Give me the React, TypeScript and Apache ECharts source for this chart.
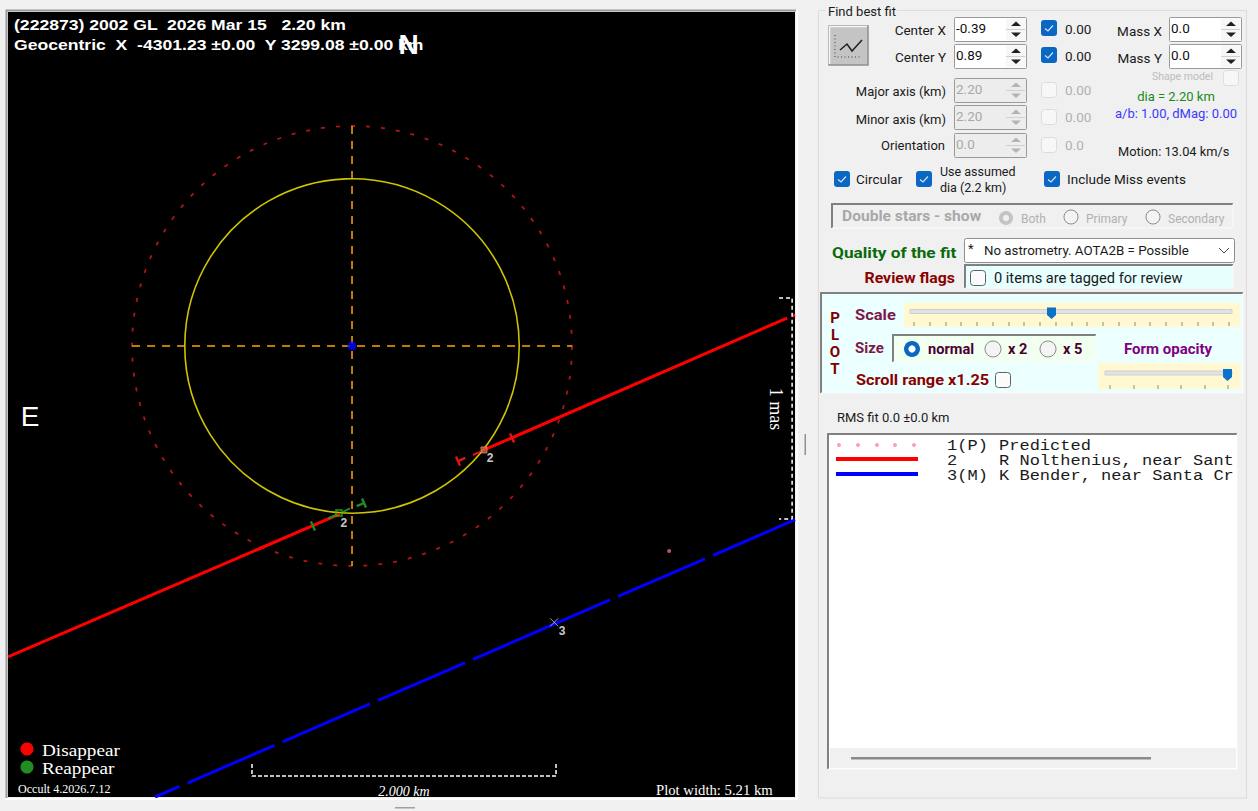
import React, { useEffect, useRef } from "react";
import * as echarts from "echarts";

// ---- Occultation plot data, all in km from the asteroid centre (x right, y up) ----
const asteroidCircle = [[0, 0, 1.1]];
const limitCircle = [[0, 0, 1.447]];
const crossHorizontal = [[-1.447, 0], [1.447, 0]];
const crossVertical = [[0, 1.447], [0, -1.447]];
const redChord = [
  [-2.263, -2.046], [-0.079, -1.105], [null, null],
  [0.868, -0.684], [2.862, 0.184], [null, null],
  [2.895, 0.197], [2.914, 0.205],
];
const redDash = [[0.796, -0.717], [0.842, -0.697]];
const greenDashes = [
  [-0.158, -1.135], [-0.112, -1.115], [null, null],
  [-0.059, -1.092], [-0.013, -1.069],
];
const blueChord = [
  [-1.296, -2.967], [-1.135, -2.897], [null, null],
  [-1.082, -2.875], [-0.51, -2.627], [null, null],
  [-0.457, -2.604], [0.118, -2.355], [null, null],
  [0.171, -2.332], [0.743, -2.084], [null, null],
  [0.796, -2.061], [1.697, -1.671], [null, null],
  [1.75, -1.648], [2.322, -1.4], [null, null],
  [2.375, -1.378], [2.914, -1.143],
];
const disappearTicks = [[0.697, -0.757, 1], [1.053, -0.605, 0]];
const reappearTicks = [[-0.257, -1.184, 0], [0.079, -1.033, -1]];
const disappearBox = [[0.868, -0.684]];
const reappearBox = [[-0.086, -1.099]];
const chordLabels = [
  { value: [0.908, -0.737], name: "2" },
  { value: [-0.053, -1.164], name: "2" },
  { value: [1.382, -1.875], name: "3" },
];
const missTick = [[1.33, -1.818]];
const predictedPoint = [[2.086, -1.349]];
const centrePoint = [[0, 0]];
const scaleBar = [[-0.658, -2.75], [-0.658, -2.829], [1.342, -2.829], [1.342, -2.75]];
const masBar = [[2.809, 0.316], [2.895, 0.316], [2.895, -1.138], [2.809, -1.138]];

// ---- Texts ----
const titleLine1 = "(222873) 2002 GL  2026 Mar 15   2.20 km";
const titleLine2 = "Geocentric  X  -4301.23 ±0.00  Y 3299.08 ±0.00 km";
const listRows = [
  ["1(P)", "Predicted"],
  ["2", "R Nolthenius, near Sant"],
  ["3(M)", "K Bender, near Santa Cr"],
];
const scaleTicks = [914, 930, 946, 961, 977, 993, 1009, 1024, 1040, 1056, 1072, 1087, 1103, 1119, 1135, 1150, 1166, 1182, 1198, 1213, 1229];
const opacityTicks = [1110, 1134, 1158, 1181, 1205, 1228];

const UI = "Roboto, 'Noto Sans', sans-serif";
const SANS = "'Liberation Sans', Arial, sans-serif";
const SERIF = "'Liberation Serif', 'Times New Roman', serif";
const MONO = "'Liberation Mono', 'Courier New', monospace";
const Z = 10;

function txt(x: number, y: number, text: string, font: string, fill = "#1a1a1a", align = "left", extra: any = {}) {
  return { type: "text", z: Z, x, y, silent: true, ...extra, style: { text, font, fill, align, verticalAlign: "middle" } };
}
function rect(x: number, y: number, w: number, h: number, fill: string, stroke = "none", r = 0, lineWidth = 1) {
  return { type: "rect", z: Z, silent: true, shape: { x, y, width: w, height: h, r }, style: { fill, stroke, lineWidth } };
}
function line(pts: number[][], stroke: string, lineWidth = 1, lineDash?: number[]) {
  return { type: "polyline", z: Z + 1, silent: true, shape: { points: pts }, style: { fill: "none", stroke, lineWidth, lineDash } };
}
function tri(pts: number[][], fill: string) {
  return { type: "polygon", z: Z + 1, silent: true, shape: { points: pts }, style: { fill } };
}
function sunken(x: number, y: number, w: number, h: number, fill: string) {
  return [
    rect(x, y, w, h, fill),
    line([[x, y + h], [x, y], [x + w, y]], "#808080", 2),
    line([[x, y + h], [x + w, y + h], [x + w, y]], "#fafafa", 1),
  ];
}
function spinner(x: number, y: number, value: string, enabled: boolean) {
  const W = 72, H = 24;
  const c = enabled ? "#101010" : "#a8a8a8";
  const a = enabled ? "#202020" : "#b4b4b4";
  return [
    rect(x + 0.5, y + 0.5, W, H, enabled ? "#ffffff" : "#ededed", "#9a9a9a", 1, 1),
    rect(x + 52, y + 1.5, 19.5, 22, enabled ? "#f7f7f7" : "#ededed"),
    line([[x + 52, y + 12.5], [x + 71, y + 12.5]], "#d0d0d0"),
    tri([[x + 57, y + 9], [x + 62, y + 4.5], [x + 67, y + 9]], a),
    tri([[x + 57, y + 15.5], [x + 67, y + 15.5], [x + 62, y + 20]], a),
    txt(x + 2, y + 11, value, `13.5px ${UI}`, c),
  ];
}
function checked(x: number, y: number) {
  return [
    rect(x, y, 16, 16, "#0a67c2", "none", 3),
    line([[x + 4, y + 8.5], [x + 7, y + 11], [x + 12, y + 5.5]], "#cfe3ff", 1.2),
  ];
}
function unchecked(x: number, y: number, enabled = false) {
  return [rect(x + 0.5, y + 0.5, 15, 15, enabled ? "#fbfbfb" : "#f7f7f7", enabled ? "#606060" : "#dcdcdc", 3, 1)];
}
function radio(cx: number, cy: number, r: number, mode: "off" | "on" | "grey", bg = "#f4f4f4") {
  const base: any[] = [];
  if (mode === "on") {
    base.push({ type: "circle", z: Z, silent: true, shape: { cx, cy, r }, style: { fill: "#0a67c2" } });
    base.push({ type: "circle", z: Z + 1, silent: true, shape: { cx, cy, r: r * 0.45 }, style: { fill: "#ffffff" } });
  } else if (mode === "grey") {
    base.push({ type: "circle", z: Z, silent: true, shape: { cx, cy, r }, style: { fill: "#c4c4c4" } });
    base.push({ type: "circle", z: Z + 1, silent: true, shape: { cx, cy, r: r * 0.45 }, style: { fill: "#f0f0f0" } });
  } else {
    base.push({ type: "circle", z: Z, silent: true, shape: { cx, cy, r }, style: { fill: bg, stroke: "#8a8a8a", lineWidth: 1 } });
  }
  return base;
}
function slider(x0: number, x1: number, y: number, thumbX: number, thumbBottom: number, ticks: number[], tickY: number) {
  return [
    rect(x0, y, x1 - x0, 4, "#e2e2e2", "#cfcfcf", 0, 1),
    tri([[thumbX, y - 2], [thumbX + 9, y - 2], [thumbX + 9, thumbBottom - 4], [thumbX + 4.5, thumbBottom], [thumbX, thumbBottom - 4]], "#0a72c8"),
    ...ticks.map((t) => line([[t, tickY], [t, tickY + 4]], "#8a8a8a")),
  ];
}

function buildGraphics() {
  const out: any[] = [];
  // plot frame + overlay texts
  out.push(line([[6.5, 798], [6.5, 10.5], [796, 10.5]], "#9a9a9a", 2));
  out.push(line([[5, 799], [797, 799], [797, 10]], "#fdfdfd", 2));
  out.push(txt(14, 25, titleLine1, `bold 15.5px ${SANS}`, "#ffffff", "left", { scaleX: 1.135 }));
  out.push(txt(14, 45, titleLine2, `bold 15.5px ${SANS}`, "#ffffff", "left", { scaleX: 1.135 }));
  out.push(txt(408.5, 44, "N", `bold 28px ${SANS}`, "#ffffff", "center"));
  out.push(txt(30, 416, "E", `28px ${SANS}`, "#ffffff", "center"));
  out.push({ type: "circle", z: Z, silent: true, shape: { cx: 27, cy: 749, r: 6.5 }, style: { fill: "#ff0000" } });
  out.push({ type: "circle", z: Z, silent: true, shape: { cx: 27, cy: 767, r: 6.5 }, style: { fill: "#228b22" } });
  out.push(txt(42, 750, "Disappear", `17px ${SERIF}`, "#ffffff", "left", { scaleX: 1.13 }));
  out.push(txt(42, 768, "Reappear", `17px ${SERIF}`, "#ffffff", "left", { scaleX: 1.13 }));
  out.push(txt(18, 789, "Occult 4.2026.7.12", `11.5px ${SERIF}`, "#ffffff", "left", { scaleX: 1.05 }));
  out.push(txt(404, 791, "2.000 km", `italic 14px ${SERIF}`, "#ffffff", "center"));
  out.push(txt(656, 790, "Plot width: 5.21 km", `14px ${SERIF}`, "#ffffff", "left", { scaleX: 1.05 }));
  out.push(txt(776, 409, "1 mas", `18px ${SERIF}`, "#ffffff", "center", { rotation: -Math.PI / 2 }));

  // small divider grips
  out.push(rect(804.5, 434, 1.5, 21, "#909090"));
  out.push(rect(395, 807, 20, 1.5, "#a0a0a0"));

  // group box
  out.push(rect(818.5, 10.5, 428, 787.5, "none", "#dcdcdc", 0, 1));
  out.push(rect(825, 5, 72, 10, "#f0f0f0"));
  out.push(txt(828, 11, "Find best fit", `13px ${UI}`));

  // fit button
  out.push(rect(829, 26, 39, 39, "#c4c4c4", "#8f8f8f", 0, 1.5));
  out.push(line([[829.5, 64], [829.5, 26.5], [867, 26.5]], "#f4f4f4", 1.5));
  out.push(line([[835, 35], [835, 57], [862, 57]], "#404040", 1, [1, 2.5]));
  out.push(line([[840, 50], [847, 44], [852, 51], [862, 40]], "#202020", 1.5));

  // spinners and labels
  out.push(txt(946, 30, "Center X", `13.5px ${UI}`, "#1a1a1a", "right"));
  out.push(txt(946, 57, "Center Y", `13.5px ${UI}`, "#1a1a1a", "right"));
  out.push(txt(946, 91, "Major axis (km)", `13px ${UI}`, "#1a1a1a", "right"));
  out.push(txt(946, 119, "Minor axis (km)", `13px ${UI}`, "#1a1a1a", "right"));
  out.push(txt(945, 145, "Orientation", `13px ${UI}`, "#1a1a1a", "right"));
  out.push(...spinner(954, 17, "-0.39", true));
  out.push(...spinner(954, 44, "0.89", true));
  out.push(...spinner(954, 78, "2.20", false));
  out.push(...spinner(954, 105, "2.20", false));
  out.push(...spinner(954, 133, "0.0", false));
  out.push(...checked(1041, 20), ...checked(1041, 47));
  out.push(...unchecked(1041, 82), ...unchecked(1041, 109), ...unchecked(1041, 137));
  out.push(txt(1065, 29, "0.00", `13.5px ${UI}`));
  out.push(txt(1065, 56, "0.00", `13.5px ${UI}`));
  out.push(txt(1065, 90, "0.00", `13.5px ${UI}`, "#b0b0b0"));
  out.push(txt(1065, 117, "0.00", `13.5px ${UI}`, "#b0b0b0"));
  out.push(txt(1065, 145, "0.0", `13.5px ${UI}`, "#b0b0b0"));
  out.push(txt(1162, 31, "Mass X", `13.5px ${UI}`, "#1a1a1a", "right"));
  out.push(txt(1162, 58, "Mass Y", `13.5px ${UI}`, "#1a1a1a", "right"));
  out.push(...spinner(1169, 17, "0.0", true));
  out.push(...spinner(1169, 44, "0.0", true));
  out.push(txt(1213, 76, "Shape model", `10.5px ${UI}`, "#bdbdbd", "right"));
  out.push(...unchecked(1223, 70));
  out.push(txt(1176, 96, "dia = 2.20 km", `13px ${UI}`, "#1a8a1a", "center"));
  out.push(txt(1176, 113, "a/b: 1.00, dMag: 0.00", `13px ${UI}`, "#3a3aff", "center"));
  out.push(txt(1118, 151, "Motion: 13.04 km/s", `12.8px ${UI}`));

  // option row
  out.push(...checked(834, 171), ...checked(916, 171), ...checked(1044, 171));
  out.push(txt(856, 179, "Circular", `13.5px ${UI}`));
  out.push(txt(940, 171, "Use assumed", `12.5px ${UI}`));
  out.push(txt(940, 187, "dia (2.2 km)", `12.5px ${UI}`));
  out.push(txt(1067, 179, "Include Miss events", `13.5px ${UI}`));

  // double stars
  out.push(...sunken(832, 204, 401, 24, "#f0f0f0"));
  out.push(txt(842, 216, "Double stars - show", `bold 15px ${UI}`, "#a8a8a8", "left", { scaleX: 1.04 }));
  out.push(...radio(1006, 218, 7, "grey"));
  out.push(...radio(1071, 217, 7, "off", "#f4f4f4"));
  out.push(...radio(1153, 217, 7, "off", "#f4f4f4"));
  out.push(txt(1021, 219, "Both", `12px ${UI}`, "#b0b0b0"));
  out.push(txt(1086, 219, "Primary", `12px ${UI}`, "#b0b0b0"));
  out.push(txt(1168, 219, "Secondary", `12px ${UI}`, "#b0b0b0"));

  // quality
  out.push(txt(832, 253, "Quality of the fit", `bold 15px ${UI}`, "#0a6a0a", "left", { scaleX: 1.15 }));
  out.push(rect(964.5, 238.5, 270, 24, "#ffffff", "#8e8e8e", 2, 1));
  out.push(txt(968, 248, "*", `13px ${UI}`));
  out.push(txt(984, 250, "No astrometry. AOTA2B = Possible", `13.3px ${UI}`));
  out.push(line([[1219, 248], [1224, 253], [1229, 248]], "#505050", 1));
  out.push(txt(955, 278, "Review flags", `bold 15px ${UI}`, "#8b0000", "right", { scaleX: 1.06 }));
  out.push(...sunken(965, 265, 268, 23, "#e6ffff"));
  out.push(...unchecked(970, 270, true));
  out.push(txt(994, 278, "0 items are tagged for review", `14.6px ${UI}`));

  // PLOT panel
  out.push(...sunken(821, 293, 422, 100, "#ecffff"));
  ["P", "L", "O", "T"].forEach((c, i) => out.push(txt(835, 318 + i * 17, c, `bold 15px ${UI}`, "#800000", "center")));
  out.push(txt(855, 315, "Scale", `bold 15px ${UI}`, "#7a1a4a", "left", { scaleX: 1.1 }));
  out.push(rect(904, 303, 336, 24, "#fff8d0"));
  out.push(...slider(910, 1232, 309.5, 1047, 319, scaleTicks, 322));
  out.push(txt(855, 348, "Size", `bold 15px ${UI}`, "#7a1a4a"));
  out.push(...sunken(893, 335, 203, 27, "#f0fff0"));
  out.push(...radio(912, 349, 8, "on"));
  out.push(...radio(993, 349, 8, "off"));
  out.push(...radio(1048, 349, 8, "off"));
  out.push(txt(928, 349, "normal", `bold 14.6px ${UI}`, "#4a0030"));
  out.push(txt(1008, 349, "x 2", `bold 14.6px ${UI}`, "#4a0030"));
  out.push(txt(1063, 349, "x 5", `bold 14.6px ${UI}`, "#4a0030"));
  out.push(txt(1124, 349, "Form opacity", `bold 15px ${UI}`, "#800080"));
  out.push(rect(1098, 363, 143, 26, "#fff8d0"));
  out.push(...slider(1105, 1232, 371, 1223, 381, opacityTicks, 385));
  out.push(txt(856, 380, "Scroll range x1.25", `bold 15px ${UI}`, "#8b0000", "left", { scaleX: 1.09 }));
  out.push(...unchecked(995, 372, true));

  // RMS + list box
  out.push(txt(837, 417, "RMS fit 0.0 ±0.0 km", `13px ${UI}`));
  out.push(...sunken(828, 434, 409, 335, "#ffffff"));
  out.push(rect(830, 748, 406, 20, "#f0f0f0"));
  out.push(rect(851, 757, 300, 2.5, "#8a8a8a"));
  [839, 858, 877, 895, 914].forEach((cx) =>
    out.push({ type: "circle", z: Z, silent: true, shape: { cx, cy: 445, r: 2 }, style: { fill: "#ff99cc" } })
  );
  out.push(line([[836, 459], [918, 459]], "#ff0000", 4));
  out.push(line([[836, 474], [918, 474]], "#0000ff", 4));
  listRows.forEach((row, i) => {
    out.push(txt(947, 446 + i * 15, row[0], `14.5px ${MONO}`, "#1a1a1a", "left", { scaleX: 1.175 }));
    out.push(txt(999, 446 + i * 15, row[1], `14.5px ${MONO}`, "#1a1a1a", "left", { scaleX: 1.175 }));
  });
  return out;
}

function circleItem(stroke: string, lineWidth: number, lineDash?: number[]) {
  return (_p: any, api: any) => {
    const c = api.coord([api.value(0), api.value(1)]);
    const r = api.size([api.value(2), 0])[0];
    return { type: "circle", shape: { cx: c[0], cy: c[1], r }, style: { fill: "none", stroke, lineWidth, lineDash } };
  };
}
function tickItem(stroke: string) {
  return (_p: any, api: any) => {
    const c = api.coord([api.value(0), api.value(1)]);
    const dir = api.value(2);
    const ux = 0.917, uy = -0.398, nx = 0.398, ny = 0.917;
    const kids: any[] = [
      { type: "line", shape: { x1: c[0] - 5 * nx, y1: c[1] - 5 * ny, x2: c[0] + 5 * nx, y2: c[1] + 5 * ny }, style: { stroke, lineWidth: 2.4 } },
    ];
    if (dir !== 0) {
      kids.push({ type: "line", shape: { x1: c[0], y1: c[1], x2: c[0] + dir * 8 * ux, y2: c[1] + dir * 8 * uy }, style: { stroke, lineWidth: 2.4 } });
    }
    return { type: "group", children: kids };
  };
}
function lineSeries(data: any[], color: string, width: number, dash?: number[] | string, z = 3) {
  return {
    type: "line", data, silent: true, showSymbol: false, symbol: "none", connectNulls: false, z,
    lineStyle: { color, width, type: dash ?? "solid", cap: "butt" },
  };
}

export default function App() {
  const ref = useRef<HTMLDivElement>(null);
  useEffect(() => {
    document.body.style.margin = "0";
    const chart = echarts.init(ref.current!, undefined, { renderer: "svg" });
    chart.setOption({
      animation: false,
      backgroundColor: "#f0f0f0",
      grid: { left: 8, top: 12, width: 787, height: 785, show: true, backgroundColor: "#000000", borderWidth: 0 },
      xAxis: { type: "value", min: -2.263, max: 2.914, show: false },
      yAxis: { type: "value", min: -2.967, max: 2.197, show: false },
      series: [
        { type: "custom", data: limitCircle, renderItem: circleItem("#b01515", 1.8, [4, 11]), encode: { x: 0, y: 1 }, silent: true, z: 2 },
        lineSeries(crossHorizontal, "#ffa500", 1.5, [8, 7], 2),
        lineSeries(crossVertical, "#ffa500", 1.5, [8, 7], 2),
        { type: "custom", data: asteroidCircle, renderItem: circleItem("#cfc400", 1.6), encode: { x: 0, y: 1 }, silent: true, z: 3 },
        lineSeries(redChord, "#ff0000", 3, undefined, 4),
        lineSeries(blueChord, "#0000ff", 3, undefined, 4),
        lineSeries(redDash, "#e81010", 2, undefined, 4),
        lineSeries(greenDashes, "#228b22", 2, undefined, 5),
        { type: "custom", data: disappearTicks, renderItem: tickItem("#e01515"), encode: { x: 0, y: 1 }, silent: true, z: 5 },
        { type: "custom", data: reappearTicks, renderItem: tickItem("#228b22"), encode: { x: 0, y: 1 }, silent: true, z: 5 },
        { type: "scatter", data: disappearBox, symbol: "rect", symbolSize: 6, silent: true, z: 6, itemStyle: { color: "#c06040", borderColor: "#ff8060", borderWidth: 1 } },
        { type: "scatter", data: reappearBox, symbol: "rect", symbolSize: 6, silent: true, z: 6, itemStyle: { color: "none", borderColor: "#22c022", borderWidth: 1.5 } },
        { type: "scatter", data: missTick, symbol: "path://M0 0L10 10M10 0L0 10", symbolSize: 8, silent: true, z: 6, itemStyle: { color: "none", borderColor: "#c8c8c8", borderWidth: 1 } },
        { type: "scatter", data: predictedPoint, symbolSize: 4, silent: true, z: 6, itemStyle: { color: "#e060a0" } },
        { type: "scatter", data: centrePoint, symbolSize: 9, silent: true, z: 6, itemStyle: { color: "#0000ff" } },
        {
          type: "scatter", data: chordLabels, symbolSize: 0, silent: true, z: 7,
          label: { show: true, position: "inside", formatter: (p: any) => p.name, color: "#ffffff", font: `bold 12px ${SANS}`, fontWeight: "bold", fontSize: 12 },
        },
        lineSeries(scaleBar, "#ffffff", 1.5, [4, 2], 6),
        lineSeries(masBar, "#ffffff", 1.5, [4, 3], 6),
      ],
      graphic: { elements: buildGraphics() },
    });
    return () => chart.dispose();
  }, []);
  return <div ref={ref} style={{ position: "fixed", left: 0, top: 0, width: 1258, height: 811 }} />;
}
